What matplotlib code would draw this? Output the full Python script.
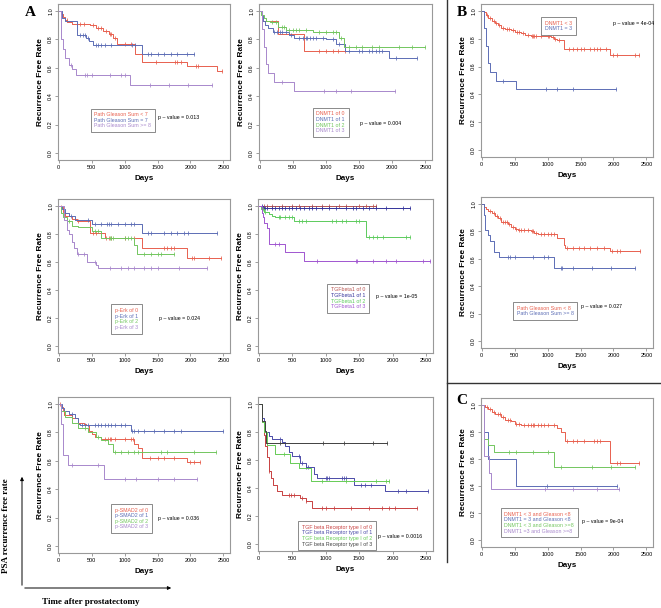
import numpy as np
import matplotlib
matplotlib.use("Agg")
import matplotlib.pyplot as plt
from matplotlib.lines import Line2D

plt.rcParams['font.family'] = ['Liberation Sans', 'DejaVu Sans']

# ---------------- data (event times, survival after each event, censor times)
# A1: Path Gleason Sum
gs_lt7_t = [30, 60, 90, 130, 200, 470, 560, 680, 760, 830, 880, 1160, 1260, 1950, 2400]
gs_lt7_s = [0.98, 0.96, 0.94, 0.92, 0.91, 0.90, 0.88, 0.86, 0.84, 0.81, 0.77, 0.70, 0.64, 0.61, 0.58]
gs_lt7_c = [120, 280, 330, 380, 520, 600, 640, 720, 780, 800, 850, 1000, 1100, 1470, 1760, 1800, 1850, 2080, 2120, 2480]
gs_eq7_t = [50, 100, 280, 420, 460, 520, 1270]
gs_eq7_s = [0.95, 0.93, 0.83, 0.81, 0.79, 0.76, 0.70]
gs_eq7_c = [320, 370, 400, 440, 560, 600, 650, 700, 800, 1120, 1160, 1350, 1400, 1500, 1600, 1700, 1800, 1950, 2050]
gs_ge8_t = [30, 60, 100, 150, 200, 270, 1090]
gs_ge8_s = [0.80, 0.73, 0.67, 0.62, 0.59, 0.55, 0.48]
gs_ge8_c = [190, 400, 430, 500, 780, 950, 1000, 1380, 1670, 1970, 2320]

# A2: DNMT1
dn0_t = [30, 280, 670]
dn0_s = [0.93, 0.84, 0.72]
dn0_c = [900, 1000, 1100, 1180, 1280]
dn1_t = [30, 50, 80, 120, 200, 450, 520, 1000, 1150, 1280, 1950]
dn1_s = [0.97, 0.93, 0.90, 0.88, 0.85, 0.83, 0.81, 0.80, 0.77, 0.72, 0.67]
dn1_c = [220, 260, 300, 340, 400, 480, 600, 650, 700, 720, 760, 800, 850, 950, 1100, 1200,
         1350, 1500, 1550, 1650, 1700, 1750, 1800, 1850, 2050, 2370]
dn2_t = [20, 60, 100, 150, 280, 400, 800, 1200, 1270]
dn2_s = [0.97, 0.95, 0.93, 0.92, 0.89, 0.87, 0.85, 0.81, 0.75]
dn2_c = [180, 240, 330, 370, 450, 500, 550, 600, 700, 900, 1000, 1100, 1150, 1220, 1350, 1450,
         1550, 1700, 1800, 2100, 2300, 2500]
dn3_t = [40, 60, 100, 130, 215, 525]
dn3_s = [0.875, 0.75, 0.625, 0.5625, 0.5, 0.4375]
dn3_c = [330, 970, 1150, 1380, 2040]

# B1: DNMT1 < 3 vs = 3
dlt3_t = [30, 60, 100, 150, 200, 250, 300, 360, 450, 500, 600, 660, 750, 1050, 1100, 1150, 1250, 1940]
dlt3_s = [0.99, 0.97, 0.95, 0.93, 0.91, 0.90, 0.88, 0.87, 0.86, 0.85, 0.84, 0.83, 0.82, 0.81,
          0.80, 0.79, 0.73, 0.68]
dlt3_c = [80, 120, 180, 220, 270, 320, 380, 420, 480, 530, 560, 620, 700, 760, 780, 800, 820,
          900, 1000, 1020, 1080, 1120, 1180, 1320, 1380, 1450, 1500, 1560, 1650, 1700, 1750,
          1800, 1880, 2000, 2050, 2320, 2390]

# A3: p-Erk
erk0_t = [30, 60, 100, 200, 280, 480, 700, 1270, 1950]
erk0_s = [0.99, 0.96, 0.93, 0.91, 0.89, 0.81, 0.77, 0.70, 0.63]
erk0_c = [40, 300, 520, 560, 720, 760, 800, 1000, 1150, 1600, 1650, 1700, 1750, 2030, 2060, 2280, 2460]
erk1_t = [50, 100, 150, 250, 500, 1270]
erk1_s = [0.98, 0.95, 0.93, 0.90, 0.87, 0.81]
erk1_c = [180, 450, 550, 650, 740, 760, 800, 900, 1000, 1100, 1150, 1350, 1400, 1600, 1700,
          1800, 1900, 1970, 2400]
erk2_t = [30, 60, 120, 200, 300, 500, 650, 1150, 1190]
erk2_s = [0.95, 0.92, 0.89, 0.86, 0.85, 0.82, 0.77, 0.72, 0.66]
erk2_c = [150, 550, 600, 780, 800, 820, 1000, 1050, 1100, 1300, 1400, 1500, 1550, 1750]
erk3_t = [80, 120, 150, 200, 230, 280, 430, 560, 590]
erk3_s = [0.90, 0.83, 0.80, 0.74, 0.70, 0.66, 0.60, 0.58, 0.555]
erk3_c = [300, 380, 550, 780, 950, 1050, 1150, 1300, 1400, 1500, 1820, 2250]

# A4: TGFbeta1
tg0_t = []
tg0_s = []
tg0_c = [80, 120, 200, 350, 500, 600, 800, 950, 1050, 1200, 1300, 1500, 1600, 1700, 1750]
tg1_t = [60]
tg1_s = [0.985]
tg1_c = [50, 80, 100, 130, 200, 250, 300, 350, 400, 450, 500, 560, 620, 680, 750, 800, 850,
         950, 1050, 1150, 1300, 1400, 1450, 1550, 1650, 1750, 1900, 2150, 2250]
tg2_t = [30, 80, 150, 200, 250, 530, 1600]
tg2_s = [0.98, 0.96, 0.94, 0.93, 0.92, 0.89, 0.78]
tg2_c = [60, 100, 300, 320, 400, 450, 500, 600, 650, 700, 1100, 1150, 1250, 1300, 1450, 1500,
         1650, 1700, 1770, 1850, 2200, 2250]
tg3_t = [50, 60, 80, 120, 150, 400, 670]
tg3_s = [0.95, 0.92, 0.88, 0.84, 0.73, 0.67, 0.61]
tg3_c = [250, 300, 870, 1450, 1470, 1700, 1900, 2050, 2450, 2550]

# B2: Path Gleason Sum < 8 vs >= 8
glt8_t = [30, 60, 100, 150, 200, 250, 300, 400, 450, 500, 550, 750, 800, 850, 1150, 1250, 1270, 1950]
glt8_s = [0.98, 0.96, 0.95, 0.93, 0.91, 0.90, 0.87, 0.85, 0.83, 0.82, 0.81, 0.80, 0.79, 0.78,
          0.75, 0.70, 0.68, 0.66]
glt8_c = [120, 180, 230, 280, 330, 350, 380, 420, 480, 520, 560, 600, 640, 700, 760, 780, 820,
          900, 950, 1000, 1050, 1100, 1300, 1380, 1480, 1560, 1650, 1750, 1850, 1980, 2050,
          2100, 2400]
gge8_t = [30, 50, 100, 130, 190, 265, 1100]
gge8_s = [0.92, 0.81, 0.77, 0.73, 0.65, 0.61, 0.535]
gge8_c = [400, 430, 500, 780, 950, 1000, 1200, 1220, 1380, 1670, 1970, 2320]

# A5: p-SMAD2
sm0_t = [30, 60, 80, 200, 300, 380, 420, 460, 500, 550, 650, 1150, 1200, 1270, 1950]
sm0_s = [0.98, 0.96, 0.92, 0.90, 0.87, 0.86, 0.85, 0.81, 0.79, 0.77, 0.755, 0.72, 0.69, 0.62, 0.59]
sm0_c = [20, 700, 750, 780, 800, 850, 1000, 1100, 1130, 1380, 1500, 1600, 1750, 2000, 2050, 2140]
sm1_t = [50, 80, 150, 250, 300, 330, 1100]
sm1_s = [0.97, 0.95, 0.93, 0.90, 0.86, 0.85, 0.81]
sm1_c = [200, 350, 400, 450, 550, 600, 650, 700, 750, 800, 850, 950, 1000, 1120, 1150, 1200,
         1300, 1450, 1600, 1750, 1850, 2500]
sm2_t = [30, 100, 200, 300, 450, 560, 650, 750, 820]
sm2_s = [0.95, 0.91, 0.87, 0.83, 0.80, 0.77, 0.75, 0.72, 0.66]
sm2_c = [400, 600, 850, 950, 1050, 1150, 1200, 1550, 1650, 2060, 2380]
sm3_t = [30, 60, 140, 690]
sm3_s = [0.86, 0.64, 0.57, 0.475]
sm3_c = [210, 600, 1000, 1170, 1500, 1750, 2100]

# A6: TGF beta Receptor type I
rc0_t = [50, 80, 100, 120, 150, 180, 220, 280, 350, 620, 700, 790]
rc0_s = [0.87, 0.78, 0.70, 0.62, 0.52, 0.47, 0.42, 0.38, 0.35, 0.33, 0.31, 0.255]
rc0_c = [160, 450, 480, 520, 650, 700, 950, 1000, 1120, 1380, 1640, 1840, 1940, 2030, 2360]
rc1_t = [50, 80, 100, 150, 200, 350, 400, 450, 500, 620, 700, 820, 870, 1420, 1880]
rc1_s = [0.90, 0.85, 0.80, 0.77, 0.75, 0.73, 0.70, 0.66, 0.63, 0.58, 0.55, 0.50, 0.47, 0.42, 0.38]
rc1_c = [320, 600, 650, 700, 730, 1000, 1020, 1050, 1250, 1280, 1300, 1520, 1580, 1670, 2080, 2200, 2530]
rc2_t = [50, 80, 130, 250, 460, 600, 780]
rc2_s = [0.87, 0.80, 0.71, 0.64, 0.58, 0.54, 0.45]
rc2_c = [380, 950, 1300, 1750, 1900, 1950]
rc3_t = [50, 90, 110]
rc3_s = [0.88, 0.81, 0.72]
rc3_c = [320, 960, 1280, 1700, 1920]

# C: DNMT1 x Gleason
cb0_t = [50, 100, 150, 200, 300, 350, 450, 500, 600, 1150, 1200, 1270, 1950]
cb0_s = [0.98, 0.97, 0.95, 0.93, 0.91, 0.89, 0.88, 0.86, 0.85, 0.83, 0.80, 0.73, 0.57]
cb0_c = [80, 130, 180, 250, 280, 320, 400, 430, 520, 560, 650, 700, 750, 780, 800, 850, 900,
         950, 1000, 1100, 1300, 1380, 1450, 1550, 1700, 1750, 1800, 2060, 2100, 2390]
cb1_t = [40, 100, 520]
cb1_s = [0.80, 0.60, 0.40]
cb1_c = [990, 2060]
cb2_t = [40, 90, 190, 1100]
cb2_s = [0.75, 0.70, 0.65, 0.54]
cb2_c = [410, 520, 780, 1010, 1200, 1670, 1970, 2330]
cb3_t = [40, 110, 140]
cb3_s = [0.625, 0.50, 0.375]
cb3_c = [960, 1380, 1750, 2080]

RED, BLUE, GREEN, PURPLE = '#E8604E', '#5C6DB5', '#72C65E', '#A888CC'


def km(ax, t, s, cens, color):
    end = max(cens + t)
    xs = np.r_[0, t, end]
    ys = np.r_[1.0, s, s[-1] if len(s) else 1.0]
    ax.step(xs, ys, where='post', color=color, lw=0.7)
    # survival level at each censor time
    idx = np.searchsorted(xs, cens, side='right') - 1
    ax.plot(cens, ys[idx], ls='none', marker='|', ms=3.5, mew=0.55, color=color)


def panel(rect, curves, labels, colors, leg_pos, pval, p_pos):
    l, t, r, b = rect
    ax = fig.add_axes([l / W, 1 - b / H, (r - l) / W, (b - t) / H])
    for (tt, ss, cc), col in zip(curves, colors):
        km(ax, tt, ss, cc, col)
    ax.set_xlim(-10, 2600)
    ax.set_ylim(-0.05, 1.05)
    ax.set_xticks([0, 500, 1000, 1500, 2000, 2500])
    ax.set_yticks([0.0, 0.2, 0.4, 0.6, 0.8, 1.0])
    ax.set_yticklabels(['0.0', '0.2', '0.4', '0.6', '0.8', '1.0'], rotation=90, va='center')
    ax.tick_params(labelsize=4, length=2, width=0.5, color='#777777', pad=1.5)
    for sp in ax.spines.values():
        sp.set_color('#999999')
        sp.set_linewidth(0.8)
    ax.set_xlabel('Days', fontsize=5.8, fontweight='bold', labelpad=4)
    ax.set_ylabel('Recurrence Free Rate', fontsize=6, fontweight='bold', labelpad=3)
    handles = [Line2D([], [], lw=0) for _ in colors]
    leg = ax.legend(handles, labels, loc='upper left', bbox_to_anchor=leg_pos, fontsize=3.8,
                    handlelength=0, handletextpad=0, labelcolor=colors, fancybox=False,
                    edgecolor='#777777', framealpha=1, borderpad=0.7, labelspacing=0.12,
                    borderaxespad=0)
    leg.get_frame().set_linewidth(0.6)
    ax.text(p_pos[0], p_pos[1], pval, transform=ax.transAxes, fontsize=3.8, va='center')
    return ax


W, H = 661, 608
fig = plt.figure(figsize=(W / 100, H / 100), dpi=100)

panel((58, 4, 230, 160),
      [(gs_lt7_t, gs_lt7_s, gs_lt7_c), (gs_eq7_t, gs_eq7_s, gs_eq7_c), (gs_ge8_t, gs_ge8_s, gs_ge8_c)],
      ['Path Gleason Sum < 7', 'Path Gleason Sum = 7', 'Path Gleason Sum >= 8'],
      [RED, BLUE, PURPLE], (0.19, 0.33), 'p \u2013 value = 0.013', (0.58, 0.27))

panel((259, 4, 432, 160),
      [(dn0_t, dn0_s, dn0_c), (dn1_t, dn1_s, dn1_c), (dn2_t, dn2_s, dn2_c), (dn3_t, dn3_s, dn3_c)],
      ['DNMT1 of 0', 'DNMT1 of 1', 'DNMT1 of 2', 'DNMT1 of 3'],
      [RED, BLUE, GREEN, PURPLE], (0.31, 0.335), 'p \u2013 value = 0.004', (0.585, 0.235))

panel((481, 4, 653, 157),
      [(dlt3_t, dlt3_s, dlt3_c), (dn3_t, dn3_s, dn3_c)],
      ['DNMT1 < 3', 'DNMT1 = 3'],
      [RED, BLUE], (0.35, 0.915), 'p \u2013 value = 4e-04', (0.765, 0.87))

panel((58, 199, 230, 353),
      [(erk0_t, erk0_s, erk0_c), (erk1_t, erk1_s, erk1_c), (erk2_t, erk2_s, erk2_c), (erk3_t, erk3_s, erk3_c)],
      ['p-Erk of 0', 'p-Erk of 1', 'p-Erk of 2', 'p-Erk of 3'],
      [RED, BLUE, GREEN, PURPLE], (0.31, 0.315), 'p \u2013 value = 0.024', (0.59, 0.225))

panel((258, 199, 433, 353),
      [(tg0_t, tg0_s, tg0_c), (tg1_t, tg1_s, tg1_c), (tg2_t, tg2_s, tg2_c), (tg3_t, tg3_s, tg3_c)],
      ['TGFbeta1 of 0', 'TGFbeta1 of 1', 'TGFbeta1 of 2', 'TGFbeta1 of 3'],
      ['#B85450', '#33339A', '#5CCB5C', '#A055D0'], (0.395, 0.45), 'p \u2013 value = 1e-05', (0.675, 0.365))

panel((481, 197, 653, 348),
      [(glt8_t, glt8_s, glt8_c), (gge8_t, gge8_s, gge8_c)],
      ['Path Gleason Sum < 8', 'Path Gleason Sum >= 8'],
      [RED, BLUE], (0.185, 0.305), 'p \u2013 value = 0.027', (0.58, 0.272))

panel((58, 397, 230, 553),
      [(sm0_t, sm0_s, sm0_c), (sm1_t, sm1_s, sm1_c), (sm2_t, sm2_s, sm2_c), (sm3_t, sm3_s, sm3_c)],
      ['p-SMAD2 of 0', 'p-SMAD2 of 1', 'p-SMAD2 of 2', 'p-SMAD2 of 3'],
      [RED, BLUE, GREEN, PURPLE], (0.31, 0.315), 'p \u2013 value = 0.036', (0.58, 0.222))

panel((258, 397, 433, 551),
      [(rc0_t, rc0_s, rc0_c), (rc1_t, rc1_s, rc1_c), (rc2_t, rc2_s, rc2_c), (rc3_t, rc3_s, rc3_c)],
      ['TGF beta Receptor type I of 0', 'TGF beta Receptor type I of 1',
       'TGF beta Receptor type I of 2', 'TGF beta Receptor type I of 3'],
      ['#C84040', '#4A4AA8', '#66CC55', '#404040'], (0.23, 0.195), 'p \u2013 value = 0.0016', (0.685, 0.097))

panel((481, 398, 653, 547),
      [(cb0_t, cb0_s, cb0_c), (cb1_t, cb1_s, cb1_c), (cb2_t, cb2_s, cb2_c), (cb3_t, cb3_s, cb3_c)],
      ['DNMT1 < 3 and Gleason <8', 'DNMT1 = 3 and Gleason <8',
       'DNMT1 < 3 and Gleason >=8', 'DNMT1 =3 and Gleason >=8'],
      [RED, BLUE, GREEN, PURPLE], (0.115, 0.262), 'p \u2013 value = 9e-04', (0.585, 0.168))

# separators between A / B / C
fig.add_artist(Line2D([447 / W, 447 / W], [1, 1 - 562 / H], color='#333333', lw=1.0))
fig.add_artist(Line2D([447 / W, 1], [1 - 383 / H, 1 - 383 / H], color='#333333', lw=1.0))

serif = ['Liberation Serif', 'DejaVu Serif']
fig.text(30 / W, 1 - 12 / H, 'A', family=serif, fontweight='bold', fontsize=11, ha='center', va='center')
fig.text(462 / W, 1 - 12 / H, 'B', family=serif, fontweight='bold', fontsize=11, ha='center', va='center')
fig.text(462 / W, 1 - 401 / H, 'C', family=serif, fontweight='bold', fontsize=11, ha='center', va='center')

# schematic axes arrows
fig.add_artist(matplotlib.patches.FancyArrowPatch((22 / W, 1 - 588 / H), (22 / W, 1 - 474 / H),
               transform=fig.transFigure, arrowstyle='-|>', mutation_scale=5, lw=0.7, color='black'))
fig.add_artist(matplotlib.patches.FancyArrowPatch((22 / W, 1 - 588 / H), (174 / W, 1 - 588 / H),
               transform=fig.transFigure, arrowstyle='-|>', mutation_scale=5, lw=0.7, color='black'))
fig.text(6 / W, 1 - 526 / H, 'PSA recurrence free rate', family=serif, fontweight='bold',
         fontsize=6.5, rotation=90, ha='center', va='center')
fig.text(91 / W, 1 - 602 / H, 'Time after prostatectomy', family=serif, fontweight='bold',
         fontsize=6.5, ha='center', va='center')

fig.savefig('out.png', dpi=100)
